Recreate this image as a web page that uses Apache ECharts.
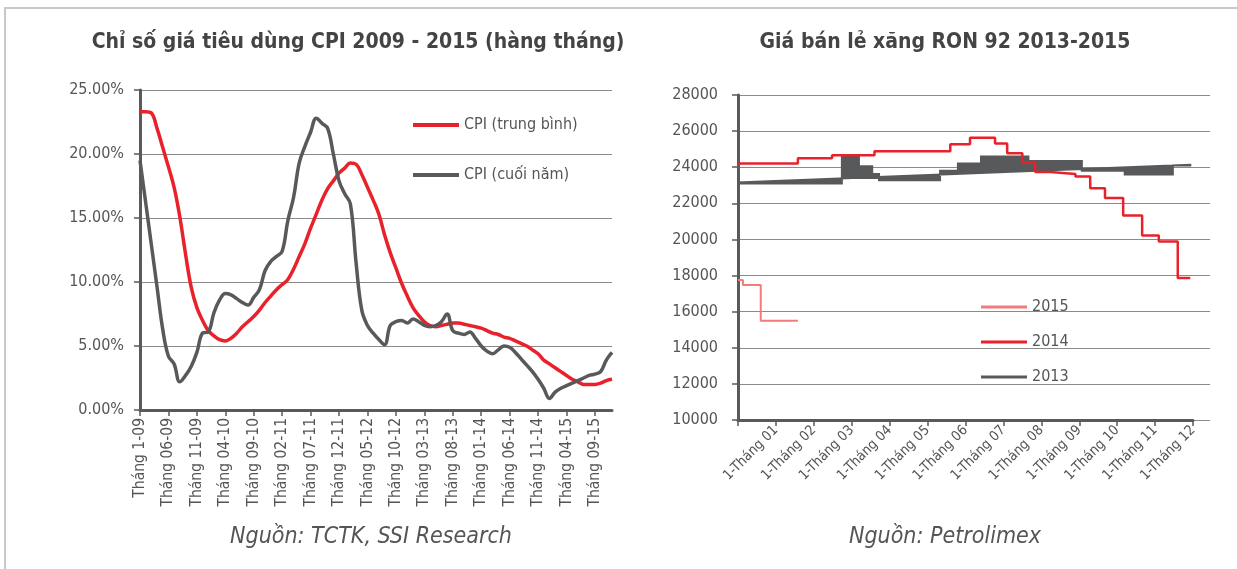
<!DOCTYPE html>
<html>
<head>
<meta charset="utf-8">
<script src="https://cdn.jsdelivr.net/npm/echarts@6/dist/echarts.min.js"></script>
<style>
  html, body { margin: 0; padding: 0; background: #fff; }
  #main { width: 1237px; height: 569px; }
</style>
</head>
<body>
<div id="main"></div>
<script>
// ---- CPI chart (left) ----
var cpiYears = ['09', '10', '11', '12', '13', '14', '15'];
var cpiMonths = [];
cpiYears.forEach(function (y, yi) {
  for (var m = 1; m <= 12; m++) {
    var mm = (yi === 0 && m === 1) ? '1' : (m < 10 ? '0' + m : '' + m);
    cpiMonths.push('Tháng ' + mm + '-' + y);
  }
});

var cpiAvg = [
  23.3, 23.3, 23.2, 22.0, 20.5, 19.0, 17.4, 15.1, 12.2, 9.6,
  8.0, 7.0, 6.2, 5.8, 5.5, 5.4, 5.6, 6.0, 6.5, 6.9,
  7.3, 7.8, 8.4, 8.9, 9.4, 9.8, 10.2, 11.0, 12.0, 13.0,
  14.2, 15.3, 16.4, 17.3, 17.9, 18.5, 18.9, 19.3, 19.2, 18.4,
  17.4, 16.4, 15.3, 13.7, 12.3, 11.1, 9.9, 8.9, 8.0, 7.4,
  6.9, 6.6, 6.5, 6.6, 6.7, 6.8, 6.8, 6.7, 6.6, 6.5,
  6.4, 6.2, 6.0, 5.9, 5.7, 5.6, 5.4, 5.2, 5.0, 4.7,
  4.4, 3.9, 3.6, 3.3, 3.0, 2.7, 2.4, 2.2, 2.0, 2.0,
  2.0, 2.1, 2.3, 2.4
];
var cpiYoy = [
  19.5, 16.2, 12.9, 9.6, 6.3, 4.2, 3.6, 2.2, 2.7, 3.4,
  4.5, 6.0, 6.1, 7.6, 8.6, 9.1, 9.0, 8.7, 8.4, 8.2,
  8.8, 9.4, 10.9, 11.6, 12.0, 12.4, 14.8, 16.6, 19.3, 20.6,
  21.7, 22.8, 22.4, 22.0, 20.0, 17.9, 16.9, 16.1, 11.5, 7.8,
  6.6, 6.0, 5.5, 5.1, 6.6, 6.9, 7.0, 6.8, 7.1, 6.9,
  6.6, 6.5, 6.6, 6.9, 7.5, 6.2, 6.0, 5.9, 6.1, 5.6,
  5.0, 4.6, 4.4, 4.7, 5.0, 4.9, 4.5, 4.0, 3.5, 3.0,
  2.4, 1.7, 0.9, 1.4, 1.7, 1.9, 2.1, 2.3, 2.5, 2.7,
  2.8, 3.0, 3.9, 4.5
];

// ---- RON 92 chart (right), x in months from 1 Jan ----
var ronLabels = ['1-Tháng 01', '1-Tháng 02', '1-Tháng 03', '1-Tháng 04', '1-Tháng 05', '1-Tháng 06',
  '1-Tháng 07', '1-Tháng 08', '1-Tháng 09', '1-Tháng 10', '1-Tháng 11', '1-Tháng 12'];
var ron2015 = [[0, 17760], [0.13, 17480], [0.6, 15500], [1.58, 15500]];
var ron2014 = [
  [0, 24200], [1.58, 24500], [2.48, 24670], [3.6, 24880], [5.6, 25270], [6.12, 25630],
  [6.78, 25320], [7.1, 24770], [7.5, 24260], [7.84, 23730], [8.23, 23630], [8.9, 23490],
  [9.29, 22840], [9.68, 22300], [10.16, 21330], [10.66, 20220], [11.1, 19890], [11.6, 17870],
  [11.93, 17870]
];
var ron2013 = [
  [0, 23100], [2.74, 24600], [3.19, 24050], [3.54, 23620], [3.72, 23280], [5.33, 23800],
  [5.8, 24200], [6.41, 24600], [7.66, 24350], [9.07, 23800], [10.2, 23600], [11.47, 24100],
  [11.93, 24100]
];
var ron2013Base = [[0, 23150], [11.93, 24140]];

var FONT = "'Liberation Sans Narrow', 'DejaVu Sans Condensed', 'Roboto', sans-serif";
var RED = '#E8212B';
var GREY = '#58595B';
var AXIS = '#5a5a5a';

var chart = echarts.init(document.getElementById('main'));

var option = {
  backgroundColor: '#fff',
  animation: false,
  textStyle: { fontFamily: FONT },
  graphic: [
    { type: 'rect', shape: { x: 5, y: 8, width: 1240, height: 600 },
      style: { fill: 'none', stroke: '#c8c8c8', lineWidth: 2 } },
    { type: 'text', x: 358, y: 43, style: { text: 'Chỉ số giá tiêu dùng CPI 2009 - 2015 (hàng tháng)',
      fontFamily: FONT, fontSize: 21, fontWeight: 'bold', fill: '#444', align: 'center', verticalAlign: 'middle' } },
    { type: 'text', x: 945, y: 43, style: { text: 'Giá bán lẻ xăng RON 92 2013-2015',
      fontFamily: FONT, fontSize: 21, fontWeight: 'bold', fill: '#444', align: 'center', verticalAlign: 'middle' } },
    { type: 'text', x: 371, y: 537, style: { text: 'Nguồn: TCTK, SSI Research',
      fontFamily: FONT, fontSize: 23, fontStyle: 'italic', fill: '#555', align: 'center', verticalAlign: 'middle' } },
    { type: 'text', x: 945, y: 537, style: { text: 'Nguồn: Petrolimex',
      fontFamily: FONT, fontSize: 23, fontStyle: 'italic', fill: '#555', align: 'center', verticalAlign: 'middle' } }
  ],
  legend: [
    {
      data: [{ name: 'CPI (trung bình)' }, { name: 'CPI (cuối năm)' }],
      orient: 'vertical', left: 408, top: 112, itemGap: 34,
      icon: 'rect', itemWidth: 46, itemHeight: 4,
      textStyle: { fontFamily: FONT, fontSize: 16, color: '#555' }
    },
    {
      data: [{ name: '2015' }, { name: '2014' }, { name: '2013', itemStyle: { color: GREY } }],
      orient: 'vertical', left: 976, top: 294, itemGap: 19,
      icon: 'rect', itemWidth: 46, itemHeight: 3,
      textStyle: { fontFamily: FONT, fontSize: 16, color: '#555' }
    }
  ],
  grid: [
    { left: 140, top: 90, width: 472, height: 320 },
    { left: 738, top: 95, width: 472, height: 325 },
    { left: 738, top: 95, width: 455, height: 325 }
  ],
  xAxis: [
    {
      type: 'category', gridIndex: 0, data: cpiMonths, boundaryGap: false,
      axisLine: { lineStyle: { color: AXIS, width: 3 } },
      axisTick: { interval: 4, length: 6, lineStyle: { color: AXIS, width: 1.5 } },
      axisLabel: { interval: 4, rotate: 90, margin: 8, fontFamily: FONT, fontSize: 15.5, color: '#555' },
      splitLine: { show: false }
    },
    {
      // data axis for the petrol series; the plot area runs a bit past 1-Dec
      type: 'value', gridIndex: 1, min: 0, max: 12.45, show: false
    },
    {
      type: 'value', gridIndex: 2, min: 0, max: 12, interval: 1,
      axisLine: { lineStyle: { color: AXIS, width: 3 } },
      axisTick: { length: 6, lineStyle: { color: AXIS, width: 1.5 } },
      axisLabel: {
        rotate: 45, margin: 8, fontFamily: FONT, fontSize: 14, color: '#555',
        showMinLabel: true, showMaxLabel: true,
        formatter: function (v) { return (v >= 1 && v <= 12) ? ronLabels[v - 1] : ''; }
      },
      splitLine: { show: false }
    }
  ],
  yAxis: [
    {
      type: 'value', gridIndex: 0, min: 0, max: 25, interval: 5,
      axisLine: { show: true, lineStyle: { color: AXIS, width: 3 } },
      axisTick: { show: true, length: 6, lineStyle: { color: AXIS, width: 1.5 } },
      axisLabel: { margin: 16, fontFamily: FONT, fontSize: 16, color: '#555',
        formatter: function (v) { return v.toFixed(2) + '%'; } },
      splitLine: { lineStyle: { color: '#8a8a8a', width: 1 } }
    },
    {
      type: 'value', gridIndex: 1, min: 10000, max: 28000, interval: 2000,
      axisLine: { show: true, lineStyle: { color: AXIS, width: 3 } },
      axisTick: { show: true, length: 6, lineStyle: { color: AXIS, width: 1.5 } },
      axisLabel: { margin: 20, fontFamily: FONT, fontSize: 16, color: '#555',
        formatter: function (v) { return String(v); } },
      splitLine: { lineStyle: { color: '#8a8a8a', width: 1 } }
    },
    { type: 'value', gridIndex: 2, min: 10000, max: 28000, show: false }
  ],
  series: [
    {
      name: 'CPI (trung bình)', type: 'line', xAxisIndex: 0, yAxisIndex: 0,
      data: cpiAvg, smooth: 0.4, showSymbol: false, color: RED,
      lineStyle: { width: 3.5, color: RED }
    },
    {
      name: 'CPI (cuối năm)', type: 'line', xAxisIndex: 0, yAxisIndex: 0,
      data: cpiYoy, smooth: 0.4, showSymbol: false, color: GREY,
      lineStyle: { width: 3.5, color: GREY }
    },
    {
      name: '2013', type: 'custom', xAxisIndex: 1, yAxisIndex: 1,
      data: [ron2013[0]], color: GREY,
      renderItem: function (params, api) {
        var pts = [];
        for (var i = 0; i < ron2013.length; i++) {
          pts.push(api.coord(ron2013[i]));
          if (i + 1 < ron2013.length) pts.push(api.coord([ron2013[i + 1][0], ron2013[i][1]]));
        }
        for (var j = ron2013Base.length - 1; j >= 0; j--) pts.push(api.coord(ron2013Base[j]));
        return { type: 'polygon', shape: { points: pts },
          style: { fill: GREY, stroke: GREY, lineWidth: 2 } };
      }
    },
    {
      name: '2014', type: 'line', xAxisIndex: 1, yAxisIndex: 1, step: 'end',
      data: ron2014, showSymbol: false, color: RED,
      lineStyle: { width: 2.5, color: RED }
    },
    {
      name: '2015', type: 'line', xAxisIndex: 1, yAxisIndex: 1, step: 'end',
      data: ron2015, showSymbol: false, color: '#F27B7B',
      lineStyle: { width: 2, color: '#F27B7B' }
    }
  ]
};
chart.setOption(option);
</script>
</body>
</html>
